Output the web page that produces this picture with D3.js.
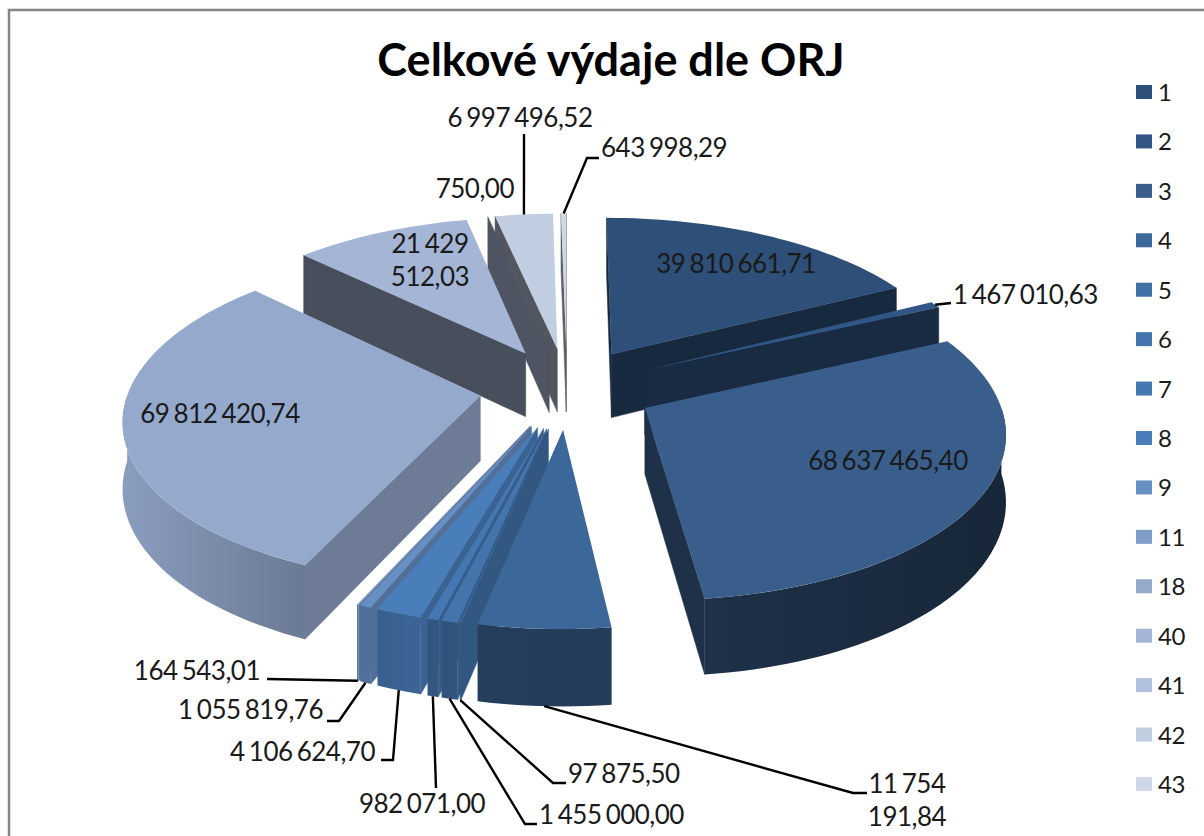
<!DOCTYPE html>
<html>
<head>
<meta charset="utf-8">
<script src="https://cdn.jsdelivr.net/npm/d3@7"></script>
<style>
    body { margin: 0; background: #fff; }
    text { font-family: Lato, "Open Sans", sans-serif; fill: #1a1a1a; }
    .lbl { font-size: 26px; letter-spacing: -0.5px; word-spacing: -2px; }
</style>
</head>
<body>
<div id="chart"></div>
<script>
    const categories = ["1", "2", "3", "4", "5", "6", "7", "8", "9", "11", "18", "40", "41", "42", "43"];
    const values = [39810661.71, 1467010.63, 68637465.40, 11754191.84, 97875.50, 1455000.00, 982071.00,
        4106624.70, 1055819.76, 164543.01, 69812420.74, 21429512.03, 750.00, 6997496.52, 643998.29];

    // colours, same order as categories
    const topColors = ["#2d4f78", "#315686", "#395e8c", "#3c6799", "#4070a5", "#4474ac", "#4577b2",
        "#4a7ebb", "#678fc4", "#809dca", "#95a9cd", "#a5b5d5", "#b1c0dc", "#c1cde1", "#d0d8e8"];
    const wallShade = [0.52, 0.5, 0.52, 0.6, 0.78, 0.78, 0.78, 0.78, 0.78, 0.75, 0.73, 0.43, 0.44, 0.42, 0.45];
    const arcShadeLeft = [0.5, 0.5, 0.52, 0.6, 0.78, 0.72, 0.72, 0.76, 0.78, 0.78, 0.93, 0.6, 0.6, 0.6, 0.6];
    const arcShadeRight = [0.5, 0.5, 0.41, 0.58, 0.78, 0.72, 0.72, 0.8, 0.78, 0.78, 0.72, 0.6, 0.6, 0.6, 0.6];

    const width = 1204, height = 836;
    const cx = 567, cy = 388;
    const radiusX = 351, radiusY = 162, depth = 65;
    const perspective = 0.128, explode = 0.25;

    const svg = d3.select("#chart").append("svg")
        .attr("width", width)
        .attr("height", height)
        .style("display", "block");
    const defs = svg.append("defs");

    // frame, runs off the right and bottom of the picture
    svg.append("path")
        .attr("d", "M9,840V10H1210")
        .attr("fill", "none")
        .attr("stroke", "#868686")
        .attr("stroke-width", 2.5);

    svg.append("text")
        .attr("x", 611)
        .attr("y", 76)
        .attr("text-anchor", "middle")
        .attr("font-size", 45)
        .attr("font-weight", 700)
        .style("fill", "#000")
        .text("Celkové výdaje dle ORJ");

    function project(x, y, z) {
        const w = 1 + perspective * y;
        return [cx + radiusX * x / w, cy + (-radiusY * y + depth * z) / w];
    }

    const pie = d3.pie().sort(null).value(d => d.value);
    const slices = pie(categories.map((c, i) => ({ name: c, value: values[i], i })));

    // 3D point of a slice: angle a, radius r, height z
    function point(d, a, r, z) {
        const mid = (d.startAngle + d.endAngle) / 2;
        const x = explode * Math.sin(mid) + r * Math.sin(a);
        const y = explode * Math.cos(mid) + r * Math.cos(a);
        return project(x, y, z);
    }

    function arcAngles(a0, a1) {
        const n = Math.max(2, Math.ceil((a1 - a0) / 0.03));
        return d3.range(n + 1).map(k => a0 + (a1 - a0) * k / n);
    }

    const line = d3.line();
    const group = svg.append("g");

    // far slices first so near ones paint over them
    const order = slices.slice().sort((p, q) =>
        Math.cos((q.startAngle + q.endAngle) / 2) - Math.cos((p.startAngle + p.endAngle) / 2));

    order.forEach(d => {
        const i = d.data.i;
        const base = d3.color(topColors[i]);
        const shaded = f => d3.rgb(base.r * f, base.g * f, base.b * f).formatHex();
        const g = group.append("g").attr("class", "slice");

        // radial walls, only the ones facing us (d3.polygonArea is negative for y-down clockwise)
        [[d.startAngle, 1], [d.endAngle, -1]].forEach(([a, sign]) => {
            const wall = [point(d, a, 0, 0), point(d, a, 1, 0), point(d, a, 1, 1), point(d, a, 0, 1)];
            if (d3.polygonArea(wall) * sign > 0) {
                g.append("path")
                    .attr("d", line(wall) + "Z")
                    .attr("fill", shaded(wallShade[i]))
                    .attr("stroke", shaded(wallShade[i]))
                    .attr("stroke-width", 0.5);
            }
        });

        // outer wall, front half only
        const a0 = Math.max(d.startAngle, Math.PI / 2);
        const a1 = Math.min(d.endAngle, Math.PI * 1.5);
        if (a1 > a0) {
            const xs = arcAngles(a0, a1);
            const outer = xs.map(a => point(d, a, 1, 0)).concat(xs.slice().reverse().map(a => point(d, a, 1, 1)));
            const gradId = "wall" + i;
            const grad = defs.append("linearGradient").attr("id", gradId);
            grad.append("stop").attr("offset", 0).attr("stop-color", shaded(arcShadeLeft[i]));
            grad.append("stop").attr("offset", 1).attr("stop-color", shaded(arcShadeRight[i]));
            g.append("path")
                .attr("d", line(outer) + "Z")
                .attr("fill", `url(#${gradId})`);
        }

        // top face
        const rim = arcAngles(d.startAngle, d.endAngle).map(a => point(d, a, 1, 0));
        g.append("path")
            .attr("d", line([point(d, d.startAngle, 0, 0)].concat(rim)) + "Z")
            .attr("fill", topColors[i]);
    });

    // legend
    const legendY = d3.scalePoint().domain(categories).range([92, 784]);
    const legend = svg.append("g").selectAll("g").data(categories).join("g")
        .attr("transform", d => `translate(1136,${legendY(d)})`);
    legend.append("rect")
        .attr("y", -7)
        .attr("width", 16)
        .attr("height", 14)
        .attr("fill", (d, i) => topColors[i]);
    legend.append("text")
        .attr("x", 22)
        .attr("y", 9)
        .attr("class", "lbl")
        .style("font-size", "24px")
        .text(d => d);

    // data labels: text placed by hand as in the reference, leader start taken from the slice
    const labelText = {
        "1": ["39 810 661,71"], "2": ["1 467 010,63"], "3": ["68 637 465,40"], "4": ["11 754", "191,84"],
        "5": ["97 875,50"], "6": ["1 455 000,00"], "7": ["982 071,00"], "8": ["4 106 624,70"],
        "9": ["1 055 819,76"], "11": ["164 543,01"], "18": ["69 812 420,74"], "40": ["21 429", "512,03"],
        "41": ["750,00"], "42": ["6 997 496,52"], "43": ["643 998,29"]
    };
    const labelPlace = {
        "1": [736, 273, "middle"], "2": [953, 304, "start"], "3": [888, 470, "middle"], "4": [907, 793, "middle"],
        "5": [568, 783, "start"], "6": [539, 824, "start"], "7": [422, 813, "middle"], "8": [375, 761, "end"],
        "9": [323, 719, "end"], "11": [260, 680, "end"], "18": [220, 423, "middle"], "40": [430, 253, "middle"],
        "41": [514, 198, "end"], "42": [520, 127, "middle"], "43": [601, 157, "start"]
    };
    // where the leader bends on its way to the text
    const leaderBend = {
        "2": [[951, 303]], "4": [[853, 793], [867, 793]], "5": [[553, 783], [566, 783]],
        "6": [[525, 824], [537, 824]], "7": [[436, 788]], "8": [[393, 760], [381, 760]],
        "9": [[339, 721], [327, 721]], "11": [[267, 679]], "42": [[524, 134]], "43": [[587, 158], [599, 158]]
    };

    const lineHeight = 32.5;
    slices.forEach(d => {
        const name = d.data.name;
        const bend = leaderBend[name];
        if (bend) {
            const mid = (d.startAngle + d.endAngle) / 2;
            const front = Math.cos(mid) < 0;
            const start = point(d, mid, 1, front ? 1 : 0);
            svg.append("path")
                .attr("d", line([start].concat(bend)))
                .attr("fill", "none")
                .attr("stroke", "#000")
                .attr("stroke-width", 2.4);
        }
        const [x, y, anchor] = labelPlace[name];
        svg.append("text")
            .attr("class", "lbl")
            .attr("text-anchor", anchor)
            .selectAll("tspan")
            .data(labelText[name])
            .join("tspan")
            .attr("x", x)
            .attr("y", (t, k) => y + k * lineHeight)
            .text(t => t);
    });
</script>
</body>
</html>
